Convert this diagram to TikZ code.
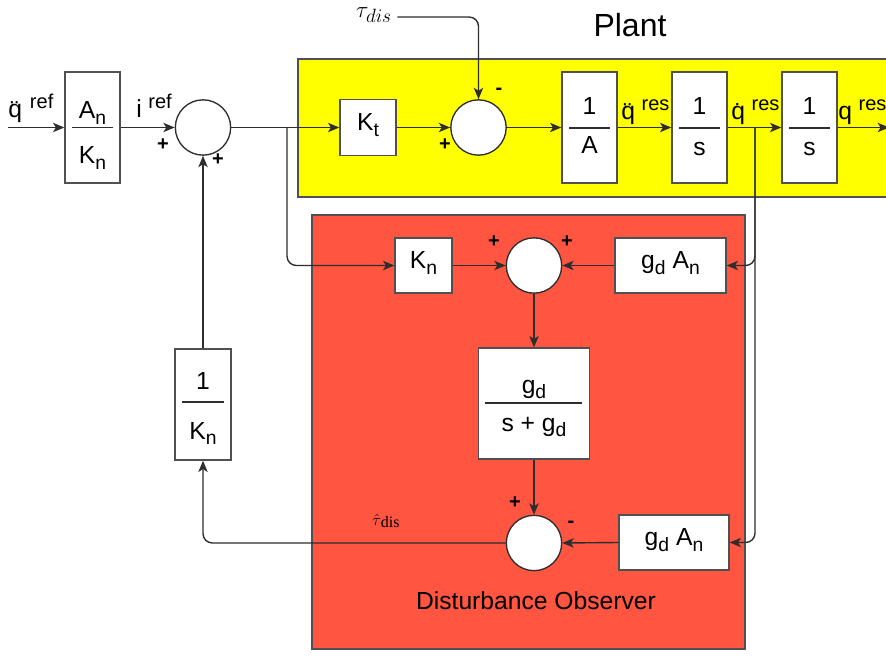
\documentclass[tikz,border=0pt]{standalone}
\usepackage{fontspec}
\setmainfont{Liberation Sans}
\newfontfamily\seriffont{Liberation Serif}
\usetikzlibrary{arrows.meta}
\definecolor{plantY}{HTML}{FFFF00}
\definecolor{dobR}{HTML}{FF5541}
\definecolor{edgeC}{HTML}{2E2E2E}
\definecolor{frameC}{HTML}{505050}
\newcommand\mysub[1]{\raisebox{-0.45ex}{\fontsize{14.5}{16}\selectfont #1}}
\newcommand\mysup[1]{\raisebox{0.75ex}{\fontsize{15}{17}\selectfont #1}}
\tikzset{
  blk/.style={draw=frameC, fill=white, line width=1pt, inner sep=0pt},
  sumc/.style={circle, draw=edgeC, fill=white, line width=1pt, inner sep=0pt, minimum size=41.5pt},
  lbl/.style={font=\fontsize{18.5}{22}\selectfont, inner sep=0pt},
  sgn/.style={font=\fontsize{15}{16}\selectfont\bfseries, inner sep=0pt},
  fracline/.style={draw=edgeC, line width=0.9pt},
  conn/.style={draw=edgeC, line width=1.05pt, rounded corners=7pt, -{Stealth[length=8.5pt,width=7pt,inset=2.2pt]}}
}
\begin{document}
\begin{tikzpicture}[x=0.75pt,y=-0.75pt]
\useasboundingbox (0,0) rectangle (886,656);
\clip (0,0) rectangle (886,656);
\fill[white] (0,0) rectangle (886,656);

% background regions
\draw[fill=plantY, draw=frameC, line width=1.2pt] (298,59) rectangle (900,197);
\draw[fill=dobR, draw=frameC, line width=1.2pt] (312,215) rectangle (745,649);
\node[font=\fontsize{24}{28}\selectfont, inner sep=0pt] (plant) at (630,25) {Plant};
\node[font=\fontsize{18.5}{22}\selectfont, inner sep=0pt] (dob) at (536,601) {Disturbance Observer};

% blocks
\node[blk, minimum width=41.25pt, minimum height=83.25pt] (ak) at (92.5,127.5) {};
\node[lbl, anchor=base] (akn) at (92.5,119) {A\mysub{n}};
\node[lbl, anchor=base] (akd) at (92.5,164) {K\mysub{n}};
\draw[fracline] (72,127.5) -- (113,127.5);

\node[blk, minimum width=42pt, minimum height=42pt] (kt) at (368,127.5) {};
\node[lbl] (ktt) at (368,125) {K\mysub{t}};

\node[blk, minimum width=41.25pt, minimum height=83.25pt] (oa) at (589.5,127.5) {};
\node[lbl, anchor=base] (oan) at (589.5,115) {1};
\node[lbl, anchor=base] (oad) at (589.5,154) {A};
\draw[fracline] (569,128) -- (610,128);

\node[blk, minimum width=41.25pt, minimum height=83.25pt] (sa) at (699.5,127.5) {};
\node[lbl, anchor=base] (san) at (699.5,115) {1};
\node[lbl, anchor=base] (sad) at (699.5,156) {s};
\draw[fracline] (679,128) -- (720,128);

\node[blk, minimum width=41.25pt, minimum height=83.25pt] (sb) at (809.5,127.5) {};
\node[lbl, anchor=base] (sbn) at (809.5,115) {1};
\node[lbl, anchor=base] (sbd) at (809.5,156) {s};
\draw[fracline] (789,128) -- (830,128);

\node[blk, minimum width=42.75pt, minimum height=41.25pt] (kn) at (423.5,265.5) {};
\node[lbl] (knt) at (423.5,263) {K\mysub{n}};

\node[blk, minimum width=83.25pt, minimum height=41.25pt] (ga) at (670.5,265.5) {};
\node[lbl] (gat) at (670.5,263) {g\mysub{d} A\mysub{n}};

\node[blk, minimum width=83.25pt, minimum height=83.25pt] (gf) at (534,403.5) {};
\node[lbl, anchor=base] (gfn) at (534,393) {g\mysub{d}};
\node[lbl, anchor=base] (gfd) at (534,431) {s + g\mysub{d}};
\draw[fracline] (485,403) -- (582,403);

\node[blk, minimum width=82.5pt, minimum height=41.25pt] (gb) at (674,542.5) {};
\node[lbl] (gbt) at (674,540) {g\mysub{d} A\mysub{n}};

\node[blk, minimum width=42pt, minimum height=83.25pt] (rk) at (203,404.5) {};
\node[lbl, anchor=base] (rkn) at (203,389) {1};
\node[lbl, anchor=base] (rkd) at (203,439) {K\mysub{n}};
\draw[fracline] (182,402) -- (224,402);

% summing junctions
\node[sumc] (c1) at (203,127.5) {};
\node[sumc] (c2) at (478.5,127.5) {};
\node[sumc] (c3) at (534,265.5) {};
\node[sumc] (c4) at (534,543) {};

% signs
\node[sgn] at (163,145) {+};
\node[sgn] at (218,160) {+};
\node[sgn] at (445,145) {+};
\node[sgn] at (499,91) {-};
\node[sgn] at (494,242) {+};
\node[sgn] at (567,242) {+};
\node[sgn] at (515,503) {+};
\node[sgn] at (571,524) {-};

% signal labels
\node[lbl, anchor=base west] (lqref) at (8,118) {\"q\hspace{6pt}\mysup{ref}};
\node[lbl, anchor=base west] (liref) at (136,118) {i\hspace{5pt}\mysup{ref}};
\node[lbl, anchor=base west] (lqdd) at (621,120) {\"q\hspace{5pt}\mysup{res}};
\node[lbl, anchor=base west] (lqd) at (731,120) {\.q\hspace{5pt}\mysup{res}};
\node[lbl, anchor=base west] (lq) at (838,120) {q\hspace{5pt}\mysup{res}};
\node[inner sep=0pt, anchor=east, font=\fontsize{19}{22}\selectfont] (tau) at (392,15) {$\tau_{dis}$};
\node[inner sep=0pt, font=\fontsize{12}{13}\selectfont\seriffont] (that) at (386,521) {$\hat{\tau}$\raisebox{-0.4ex}{dis}};

% connectors
\coordinate (in) at (8,127.5);
\coordinate (out) at (889,127.5);
\coordinate (b1) at (287,127.5);
\coordinate (b2) at (755,127.5);
\draw[conn] (in) -- (ak.west);
\draw[conn] (ak.east) -- (c1.west);
\draw[conn] (c1.east) -- (kt.west);
\draw[conn] (b1) |- (kn.west);
\draw[conn] (kt.east) -- (c2.west);
\draw[conn] ([xshift=4pt,yshift=-1.5pt]tau.east) -| (c2.north);
\draw[conn] (c2.east) -- (oa.west);
\draw[conn] (oa.east) -- (sa.west);
\draw[conn] (sa.east) -- (sb.west);
\draw[conn] (sb.east) -- (out);
\draw[conn] (b2) |- (ga.east);
\draw[conn] (b2) |- (gb.east);
\draw[conn] (kn.east) -- (c3.west);
\draw[conn] (ga.west) -- (c3.east);
\draw[conn] (c3.south) -- (gf.north);
\draw[conn] (gf.south) -- (c4.north);
\draw[conn] (gb.west) -- (c4.east);
\draw[conn] (c4.west) -| (rk.south);
\draw[conn] (rk.north) -- (c1.south);
\end{tikzpicture}
\end{document}
